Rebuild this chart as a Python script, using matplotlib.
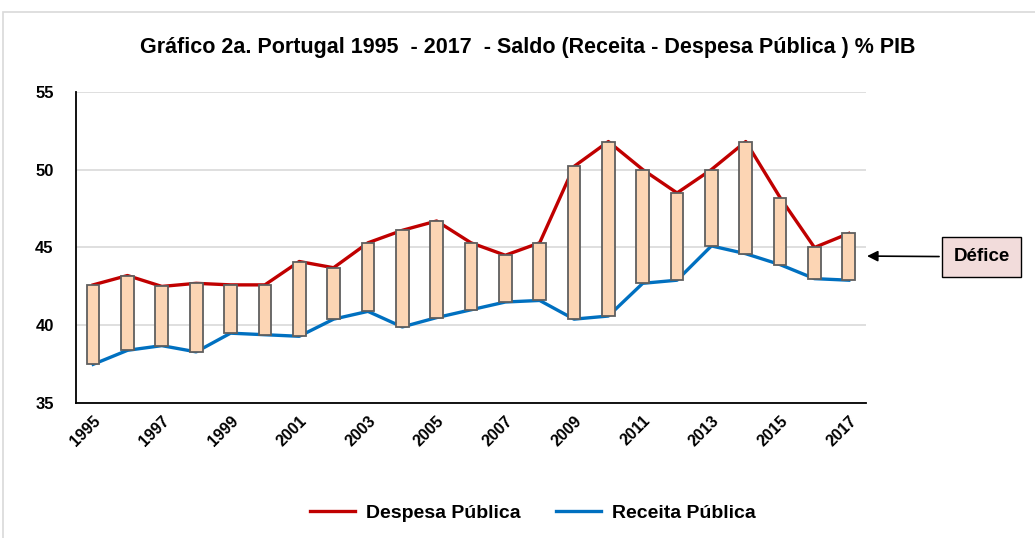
import matplotlib.pyplot as plt
from matplotlib.patches import Rectangle

# Data (% PIB)
years = list(range(1995, 2018))
despesa = [42.6, 43.2, 42.5, 42.7, 42.6, 42.6, 44.1, 43.7, 45.3, 46.1, 46.7, 45.3,
           44.5, 45.3, 50.2, 51.8, 50.0, 48.5, 50.0, 51.8, 48.2, 45.0, 45.9]
receita = [37.5, 38.4, 38.7, 38.3, 39.5, 39.4, 39.3, 40.4, 40.9, 39.9, 40.5, 41.0,
           41.5, 41.6, 40.4, 40.6, 42.7, 42.9, 45.1, 44.6, 43.9, 43.0, 42.9]
tick_years = years[::2]

plt.rcParams['font.family'] = ['Liberation Sans', 'DejaVu Sans']
plt.rcParams['font.weight'] = 'bold'

fig = plt.figure(figsize=(10.35, 5.38), dpi=100)
ax = fig.add_axes([0.0734, 0.2504, 0.7633, 0.5792])

# outer chart border
fig.patches.append(Rectangle((3 / 1035, -0.01), 1.0, 0.978 + 0.01, transform=fig.transFigure,
                             fill=False, edgecolor='#D9D9D9', lw=1.2))

ax.plot(years, despesa, color='#C00000', lw=2.4, label='Despesa Pública', zorder=2)
ax.plot(years, receita, color='#0070C0', lw=2.4, label='Receita Pública', zorder=2)

# up/down bars between the two series
heights = [d - r for d, r in zip(despesa, receita)]
ax.bar(years, heights, bottom=receita, width=0.37, color='#FCD5B4',
       edgecolor='#5F5F5F', lw=1.3, zorder=3)

ax.set_xlim(1994.5, 2017.5)
ax.set_ylim(35, 55)
ax.set_yticks([35, 40, 45, 50, 55])
ax.set_xticks(tick_years)
ax.set_xticklabels([str(y) for y in tick_years], rotation=45, ha='right',
                   rotation_mode='anchor', fontsize=11.5, fontweight='bold')
for lab in ax.get_yticklabels():
    lab.set_fontsize(12)
    lab.set_fontweight('bold')
ax.tick_params(axis='both', length=0)
ax.tick_params(axis='y', pad=16)
ax.tick_params(axis='x', pad=7)

ax.grid(axis='y', color='#D9D9D9', lw=1.2, zorder=0)
ax.set_axisbelow(True)
for s in ['top', 'right']:
    ax.spines[s].set_visible(False)
ax.spines['left'].set_linewidth(1.3)
ax.spines['bottom'].set_linewidth(1.3)

fig.text(0.51, 0.912, 'Gráfico 2a. Portugal 1995  - 2017  - Saldo (Receita - Despesa Pública ) % PIB',
         ha='center', va='center', fontsize=15.5, fontweight='bold')

ax.annotate('Défice', xy=(2017.45, 44.45), xytext=(2020.87, 44.4),
            ha='center', va='center', fontsize=13.5, fontweight='bold',
            bbox=dict(boxstyle='square,pad=0.6', fc='#F2DCDB', ec='black', lw=1),
            arrowprops=dict(arrowstyle='-|>', color='black', lw=1.2, mutation_scale=16),
            annotation_clip=False)

fig.legend(loc='center', bbox_to_anchor=(0.515, 0.046), ncol=2, frameon=False,
           handlelength=2.3, handletextpad=0.6, columnspacing=1.8,
           prop={'weight': 'bold', 'size': 14})

fig.savefig('out.png', dpi=100)
